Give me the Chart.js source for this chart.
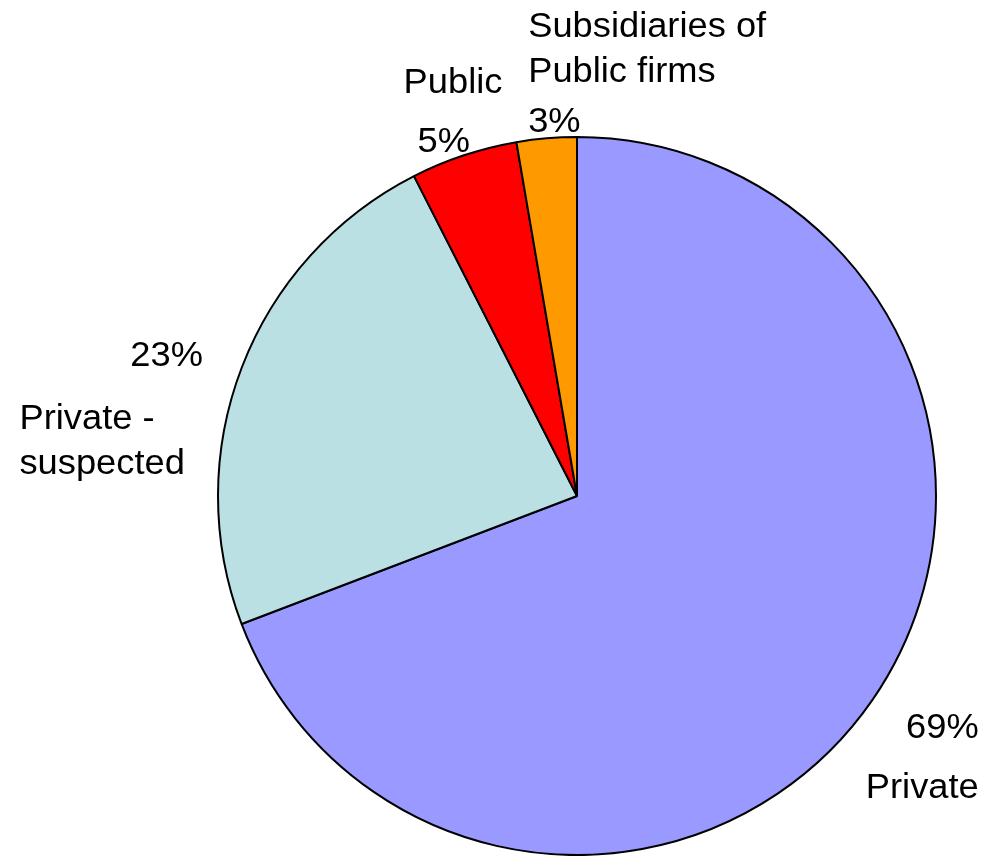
<!DOCTYPE html>
<html>
<head>
<meta charset="utf-8">
<script src="https://cdn.jsdelivr.net/npm/chart.js@4"></script>
<style>
  html, body { margin: 0; padding: 0; background: #ffffff; }
  #wrap { width: 986px; height: 856px; }
</style>
</head>
<body>
<div id="wrap"><canvas id="c" width="986" height="856"></canvas></div>
<script>
// ---- data ----
const categories = ['Private', 'Private - suspected', 'Public', 'Subsidiaries of Public firms'];
const values = [69.2, 23.3, 4.8, 2.7];
const nameLines = [['Private'], ['Private -', 'suspected'], ['Public'], ['Subsidiaries of', 'Public firms']];

// ---- style ----
const colors = ['#9999FF', '#BBE0E3', '#FF0000', '#FF9900'];
// label placement relative to pie centre, in units of the pie radius
const labelLayout = [
  { pct: { x: 1.119, y: 0.675, align: 'right' }, name: { x: 1.119, y: 0.842, align: 'right' } },
  { pct: { x: -1.042, y: -0.361, align: 'right' }, name: { x: -1.553, y: -0.186, align: 'left' } },
  { pct: { x: -0.444, y: -0.958, align: 'left' }, name: { x: -0.483, y: -1.122, align: 'left' } },
  { pct: { x: -0.136, y: -1.014, align: 'left' }, name: { x: -0.136, y: -1.278, align: 'left' } }
];
const FONT_PX = 35, X_STRETCH = 1.04, LINE_H = 45;

const total = values.reduce((a, b) => a + b, 0);

const labelPlugin = {
  id: 'pieLabels',
  afterDatasetsDraw(chart) {
    const meta = chart.getDatasetMeta(0);
    const arc0 = meta.data[0];
    const cx = arc0.x, cy = arc0.y, R = arc0.outerRadius;
    const k = R / 360;
    const ctx = chart.ctx;
    ctx.save();
    ctx.fillStyle = '#000000';
    ctx.font = FONT_PX * k + 'px "Liberation Sans", Arial, sans-serif';
    ctx.textBaseline = 'alphabetic';
    const drawLine = (t, x, y, align) => {
      ctx.save();
      ctx.translate(x, y);
      ctx.scale(X_STRETCH, 1);
      ctx.textAlign = align;
      ctx.fillText(t, 0, 0);
      ctx.restore();
    };
    values.forEach((v, i) => {
      const L = labelLayout[i];
      const pct = Math.round(v / total * 100) + '%';
      drawLine(pct, cx + L.pct.x * R, cy + L.pct.y * R, L.pct.align);
      nameLines[i].forEach((t, j) => {
        drawLine(t, cx + L.name.x * R, cy + L.name.y * R + j * LINE_H * k, L.name.align);
      });
    });
    ctx.restore();
  }
};

new Chart(document.getElementById('c'), {
  type: 'pie',
  data: {
    labels: categories,
    datasets: [{
      data: values,
      backgroundColor: colors,
      borderColor: '#000000',
      borderWidth: 2,
      borderAlign: 'center'
    }]
  },
  options: {
    responsive: false,
    animation: false,
    devicePixelRatio: 1,
    layout: { padding: { left: 217, top: 136, right: 49, bottom: 0 } },
    plugins: {
      legend: { display: false },
      tooltip: { enabled: false },
      title: { display: false }
    }
  },
  plugins: [labelPlugin]
});
</script>
</body>
</html>
